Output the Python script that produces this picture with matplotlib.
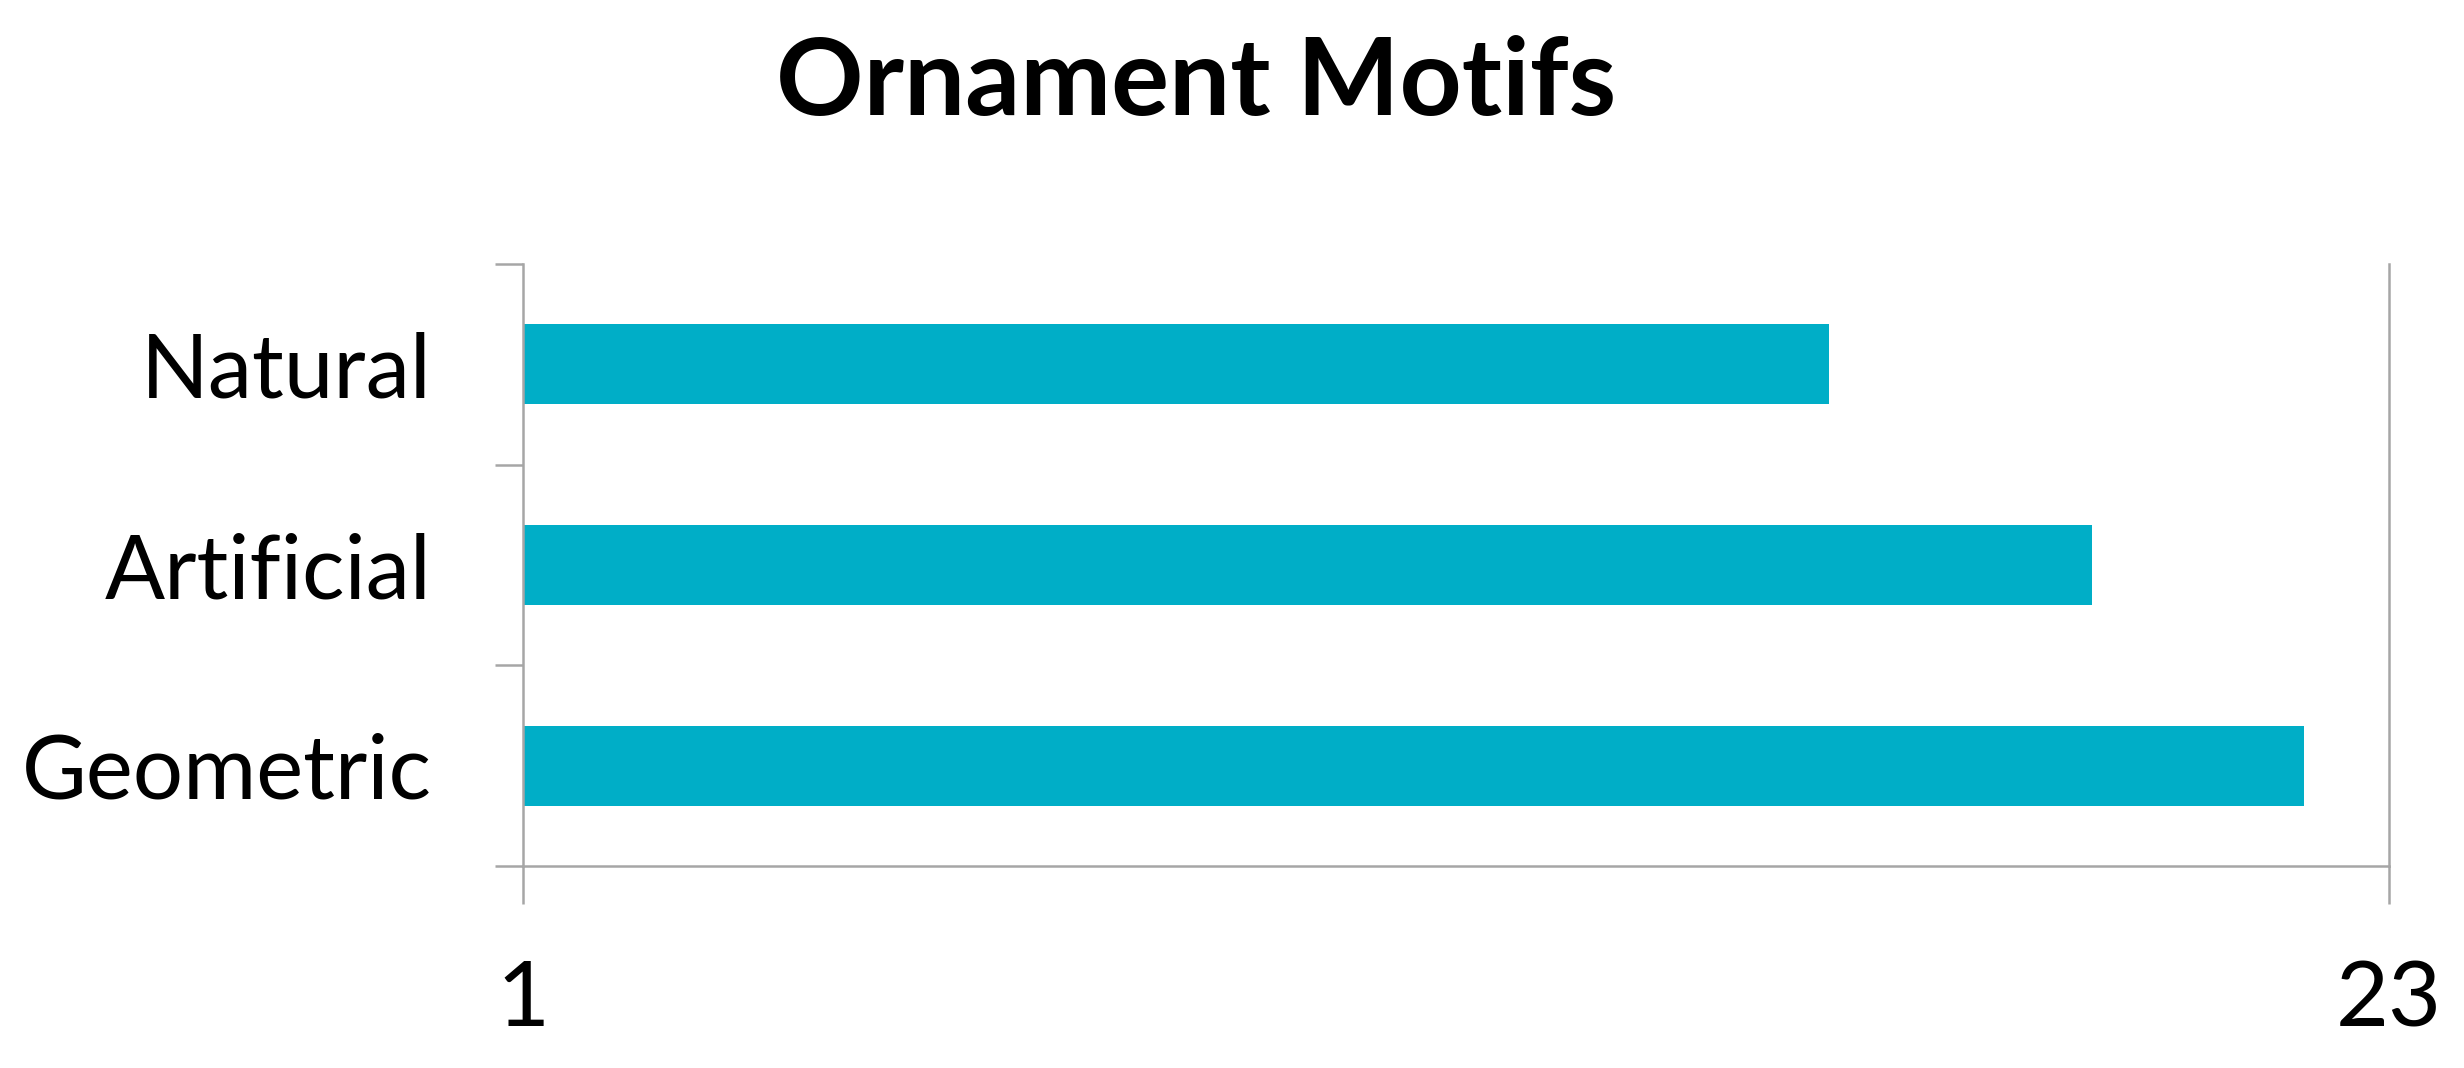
import matplotlib
matplotlib.use("Agg")
from matplotlib import pyplot as plt

# data
categories = ["Geometric", "Artificial", "Natural"]
counts = [22.0, 19.5, 16.4]
x_ticks = [1, 23]
x_tick_labels = ["1", "23"]

bar_color = "#00AEC7"
axis_color = "#A6A6A6"

plt.rcParams["font.family"] = ["Lato", "DejaVu Sans"]

fig = plt.figure(figsize=(24.64, 10.68), dpi=100)
ax = fig.add_axes([0.2123, 0.1891, 0.9695 - 0.2123, 0.7528 - 0.1891])

ypos = list(range(len(categories)))
ax.barh(ypos, counts, height=0.4, color=bar_color, zorder=2)

ax.set_xlim(x_ticks[0], x_ticks[-1])
ax.set_ylim(-0.5, len(categories) - 0.5)

# x axis: ticks at 1 and 23, pointing down
ax.set_xticks(x_ticks)
ax.set_xticklabels(x_tick_labels)
ax.tick_params(axis="x", direction="out", length=27, width=1.8, color=axis_color,
               labelsize=66, pad=40)

# y axis: labels centred on bars, tick marks on the category boundaries
ax.set_yticks(ypos)
ax.set_yticklabels(categories)
ax.set_yticks([y - 0.5 for y in ypos] + [len(categories) - 0.5], minor=True)
ax.tick_params(axis="y", which="major", length=0, labelsize=64, pad=66)
ax.tick_params(axis="y", which="minor", direction="out", length=20, width=1.8, color=axis_color)

for side in ["left", "bottom", "right"]:
    ax.spines[side].set_color(axis_color)
    ax.spines[side].set_linewidth(1.8)
ax.spines["top"].set_visible(False)

fig.text(1196 / 2464, 1 - 84 / 1068, "Ornament Motifs", ha="center", va="center",
         fontsize=78, fontweight="bold")

fig.savefig("out.png", dpi=100, facecolor="white")
